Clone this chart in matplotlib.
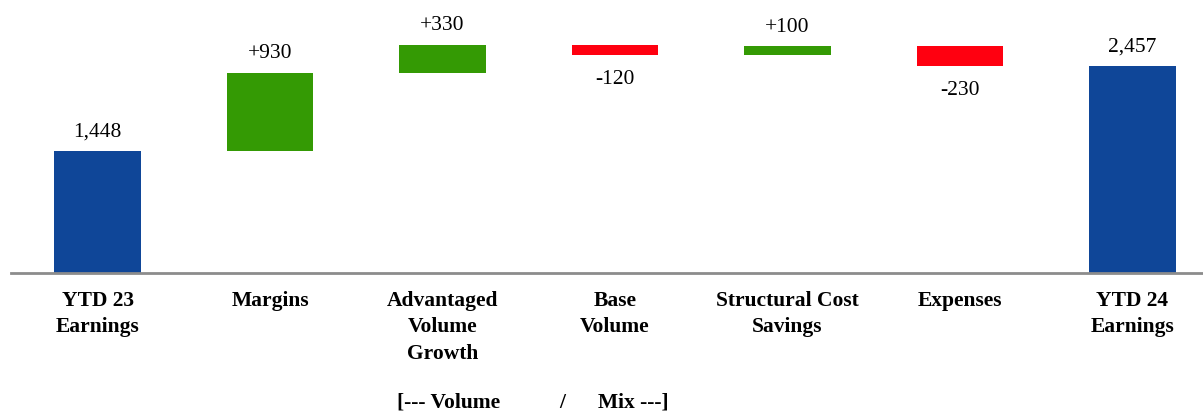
import matplotlib
matplotlib.use("Agg")
import matplotlib.pyplot as plt

categories = ["YTD 23\nEarnings", "Margins", "Advantaged\nVolume\nGrowth", "Base\nVolume",
              "Structural Cost\nSavings", "Expenses", "YTD 24\nEarnings"]
values = [1448, 930, 330, -120, 100, -230, 2457]
labels = ["1,448", "+930", "+330", "-120", "+100", "-230", "2,457"]
kinds = ["total", "delta", "delta", "delta", "delta", "delta", "total"]

BLUE = "#0F4698"
GREEN = "#349A04"
RED = "#FF0010"
FS = 15.5

W, H = 1203, 414
fig = plt.figure(figsize=(W / 100, H / 100), dpi=100)
base_px = 274
ax = fig.add_axes([11 / W, 1 - base_px / H, 1 - 11 / W, base_px / H])

px_per_unit = 172.5
xlim = (-(97.5 - 11) / px_per_unit, (W - 97.5) / px_per_unit)
ylim_top = base_px / 0.0843
ax.set_xlim(*xlim)
ax.set_ylim(0, ylim_top)

running = 0
for i, (v, k, lab) in enumerate(zip(values, kinds, labels)):
    if k == "total":
        bottom, height, color = 0, v, BLUE
        running = v
    else:
        if v >= 0:
            bottom, height, color = running, v, GREEN
        else:
            bottom, height, color = running + v, -v, RED
        running += v
    ax.bar(i, height, bottom=bottom, width=0.504, color=color, linewidth=0)
    if v >= 0:
        ax.annotate(lab, (i, bottom + height), xytext=(0, 7.5), textcoords="offset points",
                    ha="center", va="bottom", fontsize=FS, family="Liberation Serif")
    else:
        ax.annotate(lab, (i, bottom), xytext=(0, -10), textcoords="offset points",
                    ha="center", va="top", fontsize=FS, family="Liberation Serif")

for s in ["top", "right", "left"]:
    ax.spines[s].set_visible(False)
ax.spines["bottom"].set_color("#8C8C8C")
ax.spines["bottom"].set_linewidth(2)
ax.set_yticks([])
ax.set_xticks(range(len(categories)))
ax.set_xticklabels(categories, fontsize=FS, fontweight="bold", family="Liberation Serif",
                   linespacing=1.45)
ax.tick_params(axis="x", length=0, pad=12)

fy = 6 / H
fig.text(397 / W, fy, "[--- Volume", fontsize=FS, fontweight="bold", family="Liberation Serif",
         ha="left", va="baseline")
fig.text(562 / W, fy, "/", fontsize=FS, fontweight="bold", family="Liberation Serif",
         ha="center", va="baseline")
fig.text(598 / W, fy, "Mix ---]", fontsize=FS, fontweight="bold", family="Liberation Serif",
         ha="left", va="baseline")

fig.savefig("out.png", dpi=100)
